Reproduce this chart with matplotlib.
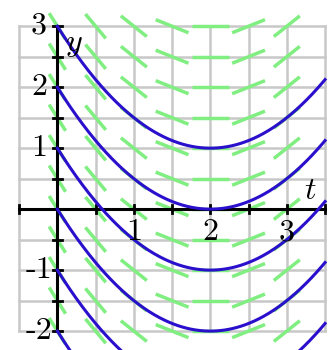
import numpy as np
import matplotlib
matplotlib.use('Agg')
import matplotlib.pyplot as plt

plt.rcParams['mathtext.fontset'] = 'cm'

# slope field dy/dt = t - 2, solutions y = (t-2)^2/2 + c
vertex_t = 2.0
c_values = [1, 0, -1, -2, -3, -4]
field_t = [0, 0.5, 1, 1.5, 2, 2.5, 3]
field_y = [-2, -1.5, -1, -0.5, 0, 0.5, 1, 1.5, 2, 2.5, 3]
grid_t = [-0.5, 0, 0.5, 1, 1.5, 2, 2.5, 3, 3.5]
grid_y = [-2, -1.5, -1, -0.5, 0, 0.5, 1, 1.5, 2, 2.5, 3]
x_labels = [1, 2, 3]
y_labels = [3, 2, 1, -1, -2]

fig = plt.figure(figsize=(3.35, 3.5), dpi=100)
ax = fig.add_axes([0, 0, 1, 1])
ax.set_xlim(-0.75, 3.63)
ax.set_ylim(-2.31, 3.43)
ax.axis('off')

gray = '#c8c8c8'
for gt in grid_t:
    ax.plot([gt, gt], [grid_y[0], grid_y[-1]], color=gray, lw=1.8, zorder=1)
for gy in grid_y:
    ax.plot([grid_t[0], grid_t[-1]], [gy, gy], color=gray, lw=1.8, zorder=1)

# slope segments
seg_len = 0.48
for ft in field_t:
    m = ft - vertex_t
    dt = seg_len / 2 / np.sqrt(1 + m * m)
    for fy in field_y:
        ax.plot([ft - dt, ft + dt], [fy - m * dt, fy + m * dt],
                color='#80ee80', lw=2.5, solid_capstyle='butt', zorder=2)

# axes with tick marks
ax.plot([grid_t[0], grid_t[-1]], [0, 0], color='black', lw=2.2, zorder=3)
ax.plot([0, 0], [grid_y[0], grid_y[-1]], color='black', lw=2.2, zorder=3)
for gt in grid_t:
    ax.plot([gt, gt], [-0.07, 0.07], color='black', lw=2, zorder=3)
for gy in grid_y:
    ax.plot([-0.055, 0.055], [gy, gy], color='black', lw=2, zorder=3)

# solution curves
tt = np.linspace(0, 3.5, 300)
for c in c_values:
    ax.plot(tt, (tt - vertex_t) ** 2 / 2 + c, color='#2a10cc', lw=2.2, zorder=4)

for v in x_labels:
    ax.text(v, -0.38, str(v), fontfamily='cmr10', fontsize=23,
            ha='center', va='center', zorder=5)
for v in y_labels:
    ax.text(-0.24, v, str(v), fontfamily='cmr10', fontsize=23,
            ha='center', va='center', zorder=5)
ax.text(3.31, 0.3, '$t$', fontsize=23, ha='center', va='center', zorder=5)
ax.text(0.22, 2.72, '$y$', fontsize=23, ha='center', va='center', zorder=5)

fig.savefig('out.png', dpi=100)
